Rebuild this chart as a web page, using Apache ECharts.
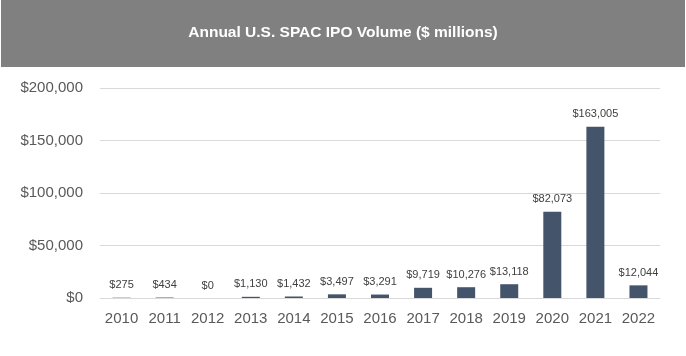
<!DOCTYPE html>
<html>
<head>
<meta charset="utf-8">
<script src="https://cdn.jsdelivr.net/npm/echarts@6/dist/echarts.min.js"></script>
<style>html,body{margin:0;padding:0;background:#fff;}#c{width:686px;height:356px;}</style>
</head>
<body>
<div id="c"></div>
<script>
const categories = ['2010','2011','2012','2013','2014','2015','2016','2017','2018','2019','2020','2021','2022'];
const volumes = [275, 434, 0, 1130, 1432, 3497, 3291, 9719, 10276, 13118, 82073, 163005, 12044];
const yTicks = [0, 50000, 100000, 150000, 200000];
const titleText = 'Annual U.S. SPAC IPO Volume ($ millions)';

const fmt = v => '$' + v.toLocaleString('en-US');
const chart = echarts.init(document.getElementById('c'), null, {renderer: 'canvas'});
chart.setOption({
  animation: false,
  backgroundColor: '#ffffff',
  graphic: [
    {type: 'rect', left: 1, top: 0, shape: {width: 684, height: 67}, style: {fill: '#808080'}, z: 0},
    {type: 'text', left: 'center', top: 25, style: {text: titleText, fill: '#ffffff', font: 'bold 15.5px "Liberation Sans", Arial, sans-serif'}, z: 1}
  ],
  grid: {left: 100, right: 26, top: 88, bottom: 58},
  xAxis: {
    type: 'category',
    data: categories,
    axisLine: {show: true, lineStyle: {color: '#d9d9d9', width: 1}},
    axisTick: {show: false},
    axisLabel: {interval: 0, color: '#595959', fontSize: 15, fontFamily: '"Liberation Sans", Arial, sans-serif', margin: 13}
  },
  yAxis: {
    type: 'value',
    min: yTicks[0],
    max: yTicks[yTicks.length - 1],
    interval: yTicks[1] - yTicks[0],
    axisLine: {show: false},
    axisTick: {show: false},
    splitLine: {lineStyle: {color: '#d9d9d9', width: 1}},
    axisLabel: {color: '#595959', fontSize: 15, fontFamily: '"Liberation Sans", Arial, sans-serif', margin: 17, formatter: fmt}
  },
  series: [{
    type: 'bar',
    data: volumes,
    barWidth: 18,
    itemStyle: {color: '#44546A'},
    label: {show: true, position: 'top', distance: 7, color: '#404040', fontSize: 11, fontFamily: '"Liberation Sans", Arial, sans-serif', formatter: p => fmt(p.value)}
  }]
});
</script>
</body>
</html>
